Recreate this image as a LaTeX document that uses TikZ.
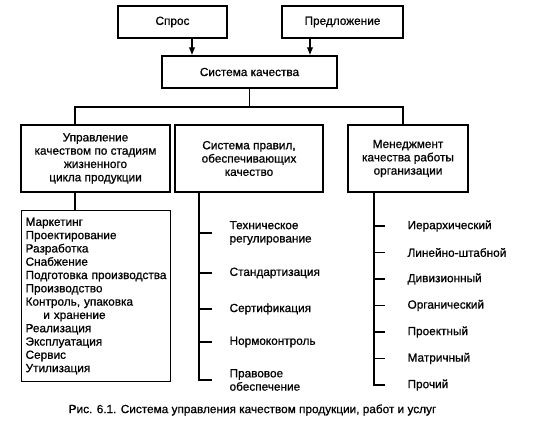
\documentclass[tikz,border=0pt]{standalone}
\usepackage{fontspec}
\setmainfont{Liberation Sans}[BoldFont=Liberation Sans, BoldFeatures={FakeBold=0.8}]
\usetikzlibrary{arrows.meta}

\begin{document}
\begin{tikzpicture}[x=1pt, y=-1pt, line width=1.2pt,
		every node/.style={font=\fontsize{11.8}{13.3}\selectfont\bfseries, inner sep=2pt},
		box/.style={draw, align=center, minimum height=32pt},
		bigbox/.style={draw, align=center, minimum height=67pt},
		arr/.style={-{Latex[length=8pt, width=6.5pt]}}]
		\useasboundingbox (0,0) rectangle (542,422);
		\pgfmathsetmacro\tick{13}
		\coordinate (busL) at (75, 107);
		\coordinate (busR) at (403, 107);
		\coordinate (pv) at (199, 0);
		\coordinate (mv) at (374, 0);
		\node[box, minimum width=109pt] (spros) at (172.5, 22) {Спрос};
		\node[box, minimum width=121pt] (predl) at (342.5, 22) {Предложение};
		\node[box, minimum width=175pt] (sys) at (249.5, 72) {Система качества};
		\node[bigbox, minimum width=149pt] (upr) at (95.5, 158.5) {Управление\\качеством по стадиям\\жизненного\\цикла продукции};
		\node[bigbox, minimum width=148pt] (prav) at (249, 158.5) {Система правил,\\обеспечивающих\\качество};
		\node[bigbox, minimum width=120pt] (men) at (408, 158.5) {Менеджмент\\качества работы\\организации};
		\node[draw, align=left, anchor=north west, minimum width=149pt, minimum height=171pt,
			inner xsep=4pt, text width=141pt] (stad) at (21, 210) {Маркетинг\\Проектирование\\Разработка\\Снабжение\\Подготовка производства\\Производство\\Контроль, упаковка\\\hspace*{1.5em}и хранение\\Реализация\\Эксплуатация\\Сервис\\Утилизация};
		\draw[arr] ([xshift=19.5pt]spros.south) -- ([xshift=19.5pt]spros.south |- sys.north);
		\draw[arr] ([xshift=-32.5pt]predl.south) -- ([xshift=-32.5pt]predl.south |- sys.north);
		\draw (sys.south) -- (sys.south |- busL);
		\draw (upr.north -| busL) -- (busL) -- (busR) -- (busR |- men.north);
		\draw (upr.south -| busL) -- (stad.north -| busL);
		\node[anchor=west, align=left] (p1) at (227, 233) {Техническое\\регулирование};
		\node[anchor=west] (p2) at (227, 273) {Стандартизация};
		\node[anchor=west] (p3) at (227, 309) {Сертификация};
		\node[anchor=west] (p4) at (227, 342) {Нормоконтроль};
		\node[anchor=west, align=left] (p5) at (227, 380) {Правовое\\обеспечение};
		\draw (prav.south -| pv) -- (pv |- p5.west) -- ++(\tick, 0);
		\foreach \i in {1,...,4}
			\draw (pv |- p\i.west) -- ++(\tick, 0);
		\node[anchor=west] (m1) at (405, 226) {Иерархический};
		\node[anchor=west] (m2) at (405, 252.5) {Линейно-штабной};
		\node[anchor=west] (m3) at (405, 279) {Дивизионный};
		\node[anchor=west] (m4) at (405, 305.5) {Органический};
		\node[anchor=west] (m5) at (405, 332) {Проектный};
		\node[anchor=west] (m6) at (405, 358.5) {Матричный};
		\node[anchor=west] (m7) at (405, 385) {Прочий};
		\draw (men.south -| mv) -- (mv |- m7.west) -- ++(11, 0);
		\foreach \i in {1,...,6}
			\draw (mv |- m\i.west) -- ++(11, 0);
		\node (cap) at (252.5, 410) {Рис. 6.1. Система управления качеством продукции, работ и услуг};
	\end{tikzpicture}
\end{document}
